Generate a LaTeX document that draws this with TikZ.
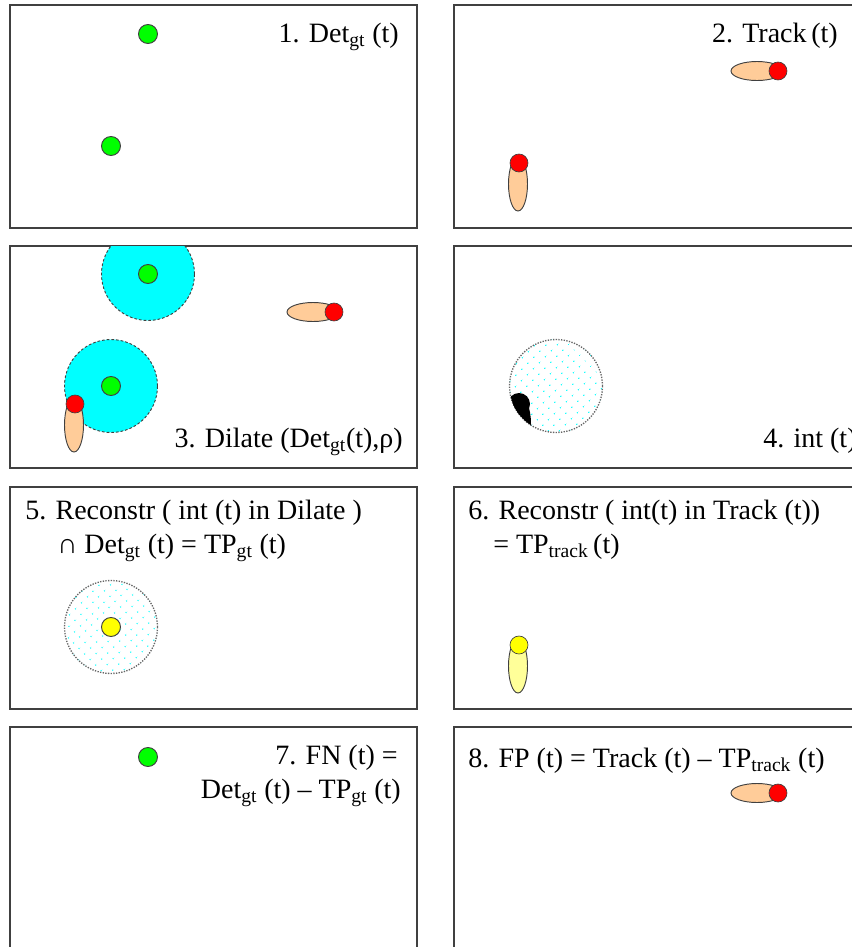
\documentclass[tikz,border=0pt]{standalone}
\usepackage{fontspec}
\setmainfont{Liberation Serif}
\usepackage{tikz}
\usetikzlibrary{shapes.geometric, patterns.meta}
\definecolor{gtGreen}{HTML}{00FF00}
\definecolor{headRed}{HTML}{FF0000}
\definecolor{trackTan}{HTML}{FFCC99}
\definecolor{dilCyan}{HTML}{00FFFF}
\definecolor{tpYellow}{HTML}{FFFF00}
\definecolor{tpPale}{HTML}{FFFF99}
\definecolor{rimGrey}{HTML}{404040}

\begin{document}
\begin{tikzpicture}[
  x=0.75pt, y=-0.75pt,
  every node/.style={font=\fontsize{21}{25.5}\selectfont},
  panel/.style={draw=rimGrey, line width=1pt},
  gtdot/.style={
    circle, minimum size=14.25pt, inner sep=0pt,
    draw=rimGrey, line width=0.7pt, fill=#1
  },
  trackhead/.style={
    circle, minimum size=13.5pt, inner sep=0pt,
    draw=rimGrey, line width=0.5pt, fill=#1
  },
  trackh/.style={
    ellipse, minimum width=39pt, minimum height=14.25pt, inner sep=0pt,
    draw=rimGrey, line width=0.7pt, fill=#1
  },
  trackv/.style={
    ellipse, minimum width=14.25pt, minimum height=40.5pt, inner sep=0pt,
    draw=rimGrey, line width=0.7pt, fill=#1
  },
  dilate/.style={
    circle, minimum size=69.75pt, inner sep=0pt,
    draw=rimGrey, line width=0.7pt, dash pattern=on 2pt off 1.5pt,
    fill=dilCyan
  },
  intset/.style={
    circle, minimum size=69.75pt, inner sep=0pt,
    draw=black!60, line width=1pt, densely dotted,
    pattern={Dots[distance=6.5pt, angle=45, radius=0.65pt]},
    pattern color=dilCyan
  },
  rtext/.style={inner sep=0pt, anchor=base east},
  ltext/.style={inner sep=0pt, anchor=base west},
]
\useasboundingbox (0,0) rectangle (851,947);

% === FRAMES ===
\draw[panel] (10,5) rectangle (417,228);
\draw[panel] (454,5) rectangle (880,228);
\draw[panel] (10,246) rectangle (417,468);
\draw[panel] (454,246) rectangle (880,468);
\draw[panel] (10,487) rectangle (417,709);
\draw[panel] (454,487) rectangle (880,709);
\draw[panel] (10,727) rectangle (417,970);
\draw[panel] (454,727) rectangle (880,970);

% === 1. GROUND TRUTH ===
\node[gtdot=gtGreen] (p1-g1) at (148,34) {};
\node[gtdot=gtGreen] (p1-g2) at (111,146) {};
\node[rtext] (p1-txt) at (399,42) {1. Det\textsubscript{gt} (t)};

% === 2. TRACKS ===
\node[trackh=trackTan] (p2-t1) at (757,71) {};
\node[trackhead=headRed] (p2-h1) at (778,71) {};
\node[trackv=trackTan] (p2-t2) at (518,184) {};
\node[trackhead=headRed] (p2-h2) at (519,163) {};
\node[rtext] (p2-txt) at (838,42) {2. Track\,(t)};

% === 3. DILATE ===
\begin{scope}
  \clip (10,246) rectangle (417,468);
  \node[dilate] (p3-d1) at (148,274) {};
  \node[dilate] (p3-d2) at (111,386) {};
\end{scope}
\node[gtdot=gtGreen] (p3-g1) at (148,274) {};
\node[gtdot=gtGreen] (p3-g2) at (111,386) {};
\node[trackh=trackTan] (p3-t1) at (313,312) {};
\node[trackhead=headRed] (p3-h1) at (334,312) {};
\node[trackv=trackTan] (p3-t2) at (74,425) {};
\node[trackhead=headRed] (p3-h2) at (75,404) {};
\node[rtext] (p3-txt) at (403,447) {3. Dilate (Det\textsubscript{gt}(t),ρ)};

% === 4. INTERSECTION ===
\node[intset] (p4-i) at (556,386) {};
\begin{scope}
  \clip (556,386) circle[radius=34.875pt];
  \fill[black] (520,424) ellipse[x radius=8.25pt, y radius=21pt];
  \fill[black] (519,404) circle[radius=8.25pt];
\end{scope}
\node[ltext] (p4-txt) at (763,447) {4. int (t)};

% === 5. TP GROUND TRUTH ===
\node[intset] (p5-i) at (111,627) {};
\node[gtdot=tpYellow] (p5-y) at (111,627) {};
\node[ltext] (p5-txt1) at (25,519) {5. Reconstr ( int (t) in Dilate )};
\node[ltext] (p5-txt2) at (57,553) {∩ Det\textsubscript{gt} (t) = TP\textsubscript{gt} (t)};

% === 6. TP TRACK ===
\node[trackv=tpPale] (p6-t) at (518,666) {};
\node[trackhead=tpYellow] (p6-h) at (519,645) {};
\node[ltext] (p6-txt1) at (468,519) {6. Reconstr ( int(t) in Track (t))};
\node[ltext] (p6-txt2) at (493,553) {= TP\textsubscript{track}\,(t)};

% === 7. FALSE NEGATIVES ===
\node[gtdot=gtGreen] (p7-g) at (148,757) {};
\node[rtext] (p7-txt1) at (398,764) {7. FN (t) =};
\node[rtext] (p7-txt2) at (401,798) {Det\textsubscript{gt} (t) – TP\textsubscript{gt} (t)};

% === 8. FALSE POSITIVES ===
\node[trackh=trackTan] (p8-t) at (757,793) {};
\node[trackhead=headRed] (p8-h) at (778,793) {};
\node[ltext] (p8-txt) at (468,767) {8. FP (t) = Track (t) – TP\textsubscript{track} (t)};

\end{tikzpicture}
\end{document}
